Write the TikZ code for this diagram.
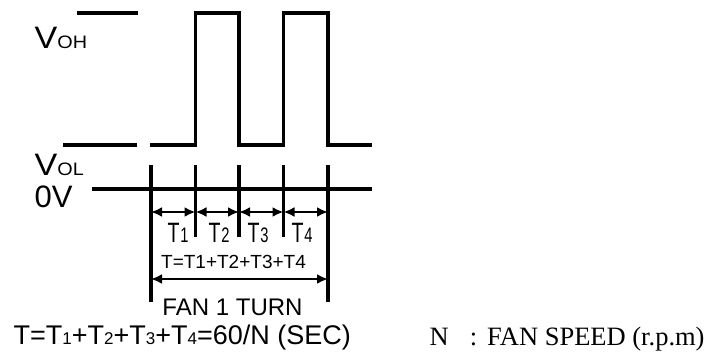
\documentclass[tikz,border=0pt]{standalone}
\usepackage{fontspec}
\setmainfont{Liberation Sans}
\newfontfamily\serifrm{Liberation Serif}
\usetikzlibrary{arrows.meta}
\newcommand{\fs}[1]{\fontsize{#1}{#1}\selectfont}
\newcommand{\tlab}[1]{\scalebox{0.7}[1]{\fs{28}T\kern1pt\fs{21}#1}}
\newcommand{\bsub}[1]{{\fs{17}#1}}
\begin{document}
\begin{tikzpicture}[x=1pt,y=-1pt,line width=3.3pt,
  txt/.style={inner sep=0pt,anchor=base west},
  ctxt/.style={inner sep=0pt,anchor=base},
  dim/.style={line width=2.4pt,{Latex[length=11pt,width=10pt]}-{Latex[length=11pt,width=10pt]}}]
\useasboundingbox (0,0) rectangle (714,356);
% tick x positions
\coordinate (a1) at (151,165); \coordinate (a2) at (195.5,165);
\coordinate (a3) at (239,165); \coordinate (a4) at (283.5,165);
\coordinate (a5) at (328,165);
\coordinate (b1) at (151,302); \coordinate (b2) at (195.5,237);
\coordinate (b3) at (239,237); \coordinate (b4) at (283.5,237);
\coordinate (b5) at (328,302);
% waveform
\draw (77,13) -- (138,13);
\draw (63,145) -- (137,145);
\draw (150,145) -- (195.5,145) -- (195.5,13) -- (239,13) -- (239,145)
      -- (283.5,145) -- (283.5,13) -- (328,13) -- (328,145) -- (372,145);
\coordinate (z0) at (92,189); \coordinate (z1) at (372,189);
\draw (z0) -- (z1);
\foreach \i in {1,...,5} \draw (a\i) -- (b\i);
% dimension arrows
\foreach \i/\j in {1/2,2/3,3/4,4/5}
  \draw[dim] (a\i |- 0,212) -- (a\j |- 0,212);
\draw[dim] (a1 |- 0,279) -- (a5 |- 0,279);
% labels
\node[txt] (voh) at (33,48) {\scalebox{1.1}[1]{\fs{31}V\fs{18}OH}};
\node[txt] (vol) at (33,175) {\scalebox{1.1}[1]{\fs{31}V\fs{18}OL}};
\node[txt] (zv) at (33,207) {\fs{31}0V};
\node[ctxt] (t1) at (178,242) {\tlab{1}};
\node[ctxt] (t2) at (219,242) {\tlab{2}};
\node[ctxt] (t3) at (258,242) {\tlab{3}};
\node[ctxt] (t4) at (302,242) {\tlab{4}};
\node[ctxt] (tsum) at (233.5,268) {\fs{19}T=T1+T2+T3+T4};
\node[ctxt] (fan) at (232.5,315) {\fs{24}FAN 1 TURN};
\node[txt] (form) at (12,344) {\fs{27}T=T\bsub{1}+T\bsub{2}+T\bsub{3}+T\bsub{4}=60/N (SEC)};
\node[txt] (spd) at (428,345) {\serifrm\fs{26.5}N\hspace{21pt}:\hspace{10pt}FAN SPEED (r.p.m)};
\end{tikzpicture}
\end{document}
